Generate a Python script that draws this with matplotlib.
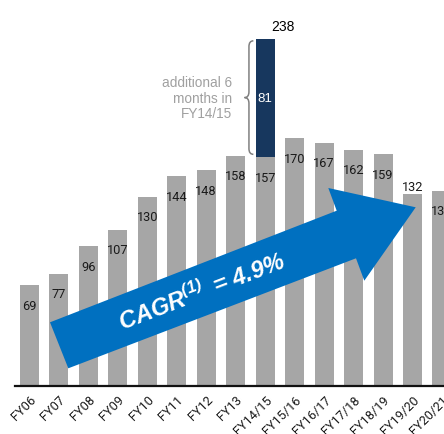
import matplotlib
matplotlib.use("Agg")
import matplotlib.pyplot as plt
from matplotlib.patches import Polygon, PathPatch
from matplotlib.path import Path

plt.rcParams["font.family"] = ["Liberation Sans", "DejaVu Sans"]
plt.rcParams["mathtext.fontset"] = "custom"
plt.rcParams["mathtext.bf"] = "Liberation Sans:italic:bold"
plt.rcParams["mathtext.rm"] = "Liberation Sans:italic:bold"

years = ["FY06", "FY07", "FY08", "FY09", "FY10", "FY11", "FY12", "FY13",
         "FY14/15", "FY15/16", "FY16/17", "FY17/18", "FY18/19", "FY19/20", "FY20/21"]
values = [69, 77, 96, 107, 130, 144, 148, 158, 157, 170, 167, 162, 159, 132, 134]
extra_idx = 8          # FY14/15 got 6 extra months
extra_value = 81
total_label = "238"
note = "additional 6\nmonths in\nFY14/15"
cagr = r"CAGR$^{\mathbf{(1)}}\,$ = 4.9%"

GREY = "#a6a6a6"
NAVY = "#17375e"
BLUE = "#0070c0"
NUM_FONT = ["Roboto", "DejaVu Sans"]

W, H = 444, 435
fig = plt.figure(figsize=(W / 100, H / 100), dpi=100)
ax = fig.add_axes([15 / W, 1 - 386.7 / H, 1 - 15 / W, (386.7 - 20) / H])

x = list(range(len(years)))
ax.bar(x, values, width=0.645, color=GREY, zorder=2)
ax.bar([extra_idx], [extra_value], bottom=[values[extra_idx]], width=0.645,
       color=NAVY, zorder=2)

ax.set_xlim(-0.49, 14.07)
ax.set_ylim(0, 252)

# value labels
for i, v in enumerate(values):
    dy = 7 if years[i] == "FY19/20" else -20
    ax.annotate(str(v), (i, v), xytext=(0, dy), textcoords="offset pixels",
                ha="center", va="center", fontsize=9.2, family=NUM_FONT,
                color="#1a1a1a", zorder=5)

top = values[extra_idx] + extra_value
ax.text(extra_idx, values[extra_idx] + extra_value / 2, str(extra_value),
        ha="center", va="center", fontsize=9.5, color="white", zorder=5)
ax.annotate(total_label, (extra_idx, top), xytext=(18, 13), textcoords="offset pixels",
            ha="center", va="center", fontsize=10, color="black", annotation_clip=False)

# curly brace left of the extra segment
xr, xt = 7.60, 7.30
xm = (xr + xt) / 2
yt, yb = top - 1, values[extra_idx] + 2
ym = (yt + yb) / 2
r = 4
verts = [(xr, yt), (xm, yt), (xm, yt - r), (xm, ym + r), (xm, ym), (xt, ym),
         (xm, ym), (xm, ym - r), (xm, yb + r), (xm, yb), (xr, yb)]
codes = [Path.MOVETO, Path.CURVE3, Path.CURVE3, Path.LINETO, Path.CURVE3, Path.CURVE3,
         Path.CURVE3, Path.CURVE3, Path.LINETO, Path.CURVE3, Path.CURVE3]
ax.add_patch(PathPatch(Path(verts, codes), fill=False, edgecolor="#808080", lw=1.1,
                       zorder=4))
ax.text(6.87, ym, note, ha="right", va="center", fontsize=9.8, color="#a0a0a0",
        linespacing=1.15)

# big CAGR arrow (figure pixels)
arrow_px = [(50, 323.3), (336.7, 211.7), (328.3, 189), (415.7, 208.3),
            (364.3, 281.7), (356, 259.3), (68.3, 369.3)]
arrow = Polygon([(px / W, 1 - py / H) for px, py in arrow_px], closed=True,
                facecolor=BLUE, edgecolor="none", transform=fig.transFigure, zorder=3)
fig.patches.append(arrow)
fig.text(202 / W, 1 - 292 / H, cagr, rotation=21, ha="center", va="center",
         fontsize=17, fontweight="bold", fontstyle="italic", color="white",
         rotation_mode="anchor", zorder=6)

# axes styling
for s in ["top", "right", "left"]:
    ax.spines[s].set_visible(False)
ax.spines["bottom"].set_linewidth(1.6)
ax.spines["bottom"].set_color("#111111")
ax.set_yticks([])
ax.set_xticks(x)
ax.set_xticklabels(years, rotation=45, ha="right", va="top", rotation_mode="anchor",
                   fontsize=9.2, family=NUM_FONT, color="#1a1a1a")
ax.tick_params(axis="x", length=0, pad=5)

fig.savefig("out.png", dpi=100)
